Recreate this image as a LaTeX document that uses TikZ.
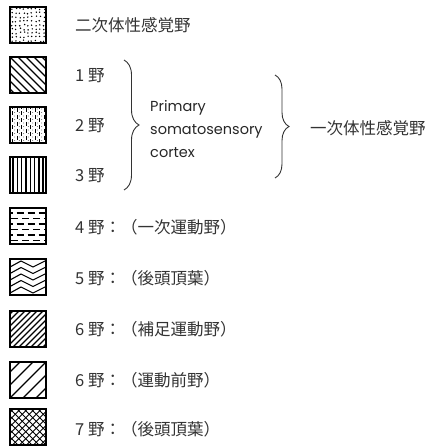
\documentclass[tikz,border=0pt]{standalone}
\usepackage{fontspec}
\newfontfamily\jpfont{Noto Sans CJK JP}
\newfontfamily\popfont{Poppins}
\usetikzlibrary{decorations.pathreplacing}
% "\" lines: #1 top, #2 first c, #3 step, #4 width
\newcommand\diagB[4]{\foreach \n in {0,...,24}{%
  \pgfmathsetmacro\cc{#2+\n*#3}%
  \pgfmathtruncatemacro\ok{(\cc>-36)&&(\cc<36)}%
  \ifnum\ok=1
    \pgfmathsetmacro\xa{10+max(\cc,0)}\pgfmathsetmacro\ya{#1+max(0,-\cc)}%
    \pgfmathsetmacro\xb{10+min(36,36+\cc)}\pgfmathsetmacro\yb{#1+min(36,36-\cc)}%
    \draw[line width=#4] (\xa,\ya) -- (\xb,\yb);
  \fi}}
% "/" lines
\newcommand\diagF[4]{\foreach \n in {0,...,24}{%
  \pgfmathsetmacro\cc{#2+\n*#3}%
  \pgfmathtruncatemacro\ok{(\cc>0)&&(\cc<72)}%
  \ifnum\ok=1
    \pgfmathsetmacro\xa{10+max(0,\cc-36)}\pgfmathsetmacro\ya{#1+min(36,\cc)}%
    \pgfmathsetmacro\xb{10+min(36,\cc)}\pgfmathsetmacro\yb{#1+max(0,\cc-36)}%
    \draw[line width=#4] (\xa,\ya) -- (\xb,\yb);
  \fi}}
\begin{document}
\begin{tikzpicture}[x=1pt,y=-1pt,
  lbl/.style={anchor=west,inner sep=0pt,text=black!80,font=\jpfont\fontsize{16.5}{19}\selectfont},
  eng/.style={anchor=west,inner sep=0pt,text=black!85,font=\popfont\fontsize{14.5}{17}\selectfont},
  frm/.style={line width=1.7pt},
  brc/.style={decorate,line width=0.9pt,draw=black!80}]
\useasboundingbox (0,0) rectangle (430,446);
% 1 dots
\pgfmathsetseed{7}
\foreach \i in {0,...,8} {\foreach \j in {0,...,8} {
  \pgfmathsetmacro\xa{10+2+\i*4+rand*0.9}
  \pgfmathsetmacro\ya{7+2+\j*4+rand*0.9}
  \fill (\xa,\ya) circle (0.8pt);}}
\draw[frm] (10,7) rectangle (46,43);
% 2 backslash lines
\diagB{57}{-32}{8}{1.1pt}
\draw[frm] (10,57) rectangle (46,93);
% 3 dashes and dots
\foreach \c [count=\n] in {2.5,7,...,34} {
   \pgfmathsetmacro\ph{mod(\n,2)*3.5}
   \draw[line width=1pt,dash pattern=on 4pt off 3pt,dash phase=\ph pt] (10+\c,108) -- (10+\c,142);}
\foreach \c in {4.75,9.25,...,34} {\foreach \r in {109,112.5,...,142} {\fill (10+\c,\r) circle (0.45pt);}}
\draw[frm] (10,107) rectangle (46,143);
% 4 vertical lines
\foreach \k in {3,7.3,...,34} {\draw[line width=1.4pt] (10+\k,157) -- (10+\k,193);}
\draw[frm] (10,157) rectangle (46,193);
% 5 brick dashes
\foreach \y [count=\n] in {5,10.5,...,33} {
   \pgfmathsetmacro\ph{mod(\n,2)*5.5}
   \draw[line width=1.1pt,dash pattern=on 7pt off 4pt,dash phase=\ph pt] (11,208+\y) -- (45,208+\y);}
\draw[frm] (10,208) rectangle (46,244);
% 6 zigzag
\foreach \y in {5,11.5,...,33} {\draw[line width=1.1pt] (10,259+\y+3) -- (21,259+\y-3) -- (33,259+\y+3) -- (46,259+\y-3.5);}
\draw[frm] (10,259) rectangle (46,295);
% 7 dense slash
\diagF{311}{3}{6}{1.4pt}
\draw[frm] (10,311) rectangle (46,347);
% 8 sparse slash
\diagF{362}{10}{13}{1.1pt}
\draw[frm] (10,362) rectangle (46,398);
% 9 crosshatch
\diagF{409}{3.5}{7}{1pt}
\diagB{409}{-35}{7}{1pt}
\draw[frm] (10,409) rectangle (46,445);
% labels
\node[lbl] (t0) at (75,25) {二次体性感覚野};
\node[lbl] (t1) at (75,76) {1 野};
\node[lbl] (t2) at (75,126) {2 野};
\node[lbl] (t3) at (75,176) {3 野};
\node[lbl] (t4) at (75,227) {4 野：（一次運動野）};
\node[lbl] (t5) at (75,278) {5 野：（後頭頂葉）};
\node[lbl] (t6) at (75,329) {6 野：（補足運動野）};
\node[lbl] (t7) at (75,380) {6 野：（運動前野）};
\node[lbl] (t8) at (75,429) {7 野：（後頭頂葉）};
\node[eng] (p1) at (150,108) {Primary};
\node[eng] (p2) at (150,131) {somatosensory};
\node[eng] (p3) at (150,153) {cortex};
\node[lbl] (ja) at (310,128) {一次体性感覚野};
\draw[brc,decoration={brace,amplitude=15pt}] (124,60) -- (124,190);
\draw[brc,decoration={brace,amplitude=14pt}] (275,75) -- (275,178);
\end{tikzpicture}
\end{document}
